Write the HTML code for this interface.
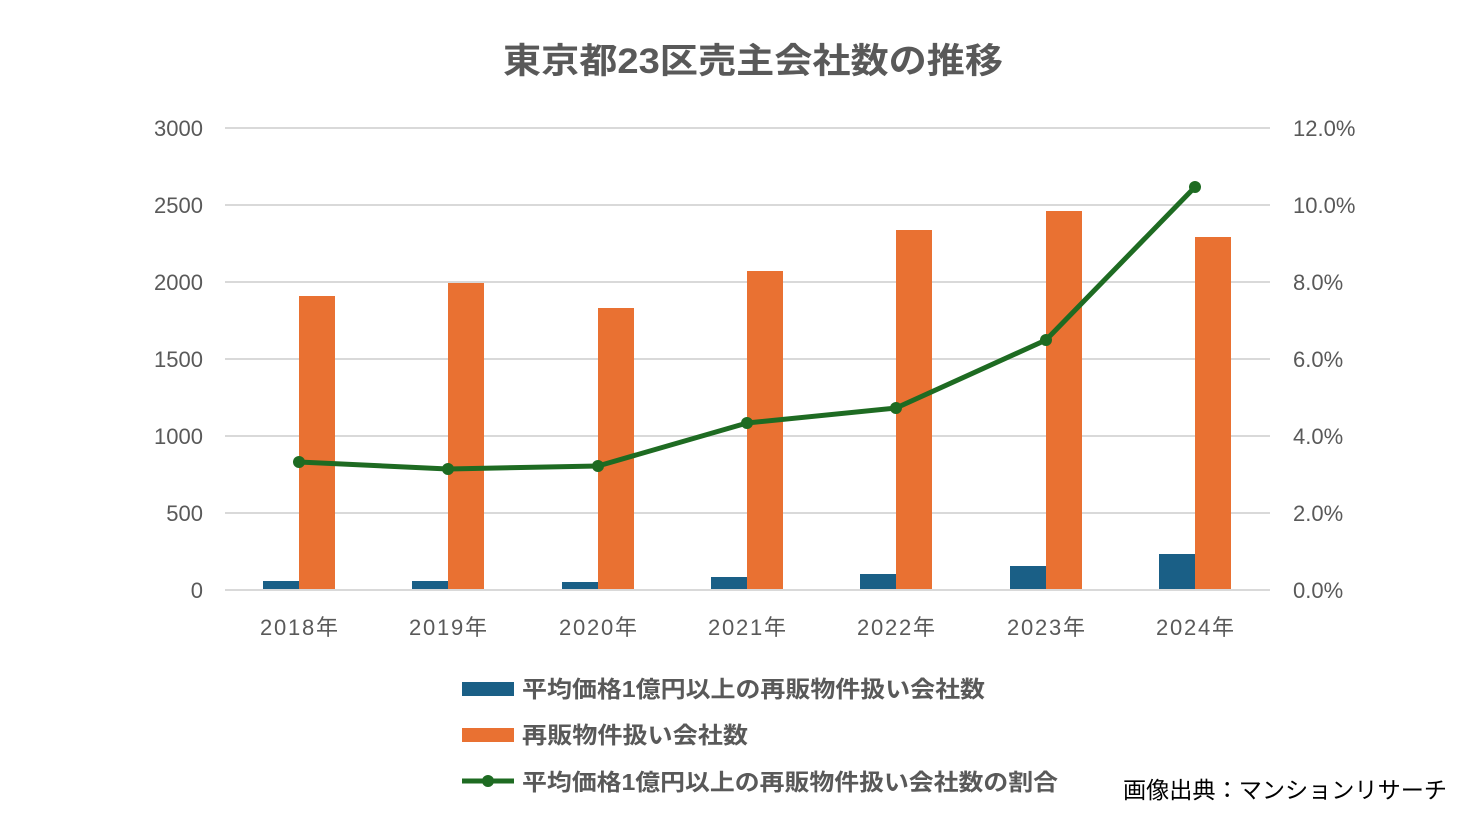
<!DOCTYPE html>
<html><head><meta charset="utf-8"><style>
body{margin:0;background:#fff;width:1470px;height:820px;overflow:hidden}
text{font-family:"Liberation Sans","Noto Sans CJK JP",sans-serif}
</style></head><body>
<svg width="1470" height="820" viewBox="0 0 1470 820" xmlns="http://www.w3.org/2000/svg">
<text x="503" y="73" textLength="500" lengthAdjust="spacingAndGlyphs" font-size="35" font-weight="bold" fill="#595959">東京都23区売主会社数の推移</text>
<g stroke="#d9d9d9" stroke-width="2">
<line x1="225" y1="128" x2="1270" y2="128"/><line x1="225" y1="205" x2="1270" y2="205"/>
<line x1="225" y1="282" x2="1270" y2="282"/><line x1="225" y1="359" x2="1270" y2="359"/>
<line x1="225" y1="436" x2="1270" y2="436"/><line x1="225" y1="513" x2="1270" y2="513"/>
<line x1="225" y1="590" x2="1270" y2="590"/></g>
<g font-size="22" fill="#595959" text-anchor="end">
<text x="203" y="136">3000</text><text x="203" y="213">2500</text><text x="203" y="290">2000</text>
<text x="203" y="367">1500</text><text x="203" y="444">1000</text><text x="203" y="521">500</text><text x="203" y="598">0</text></g>
<g font-size="22" fill="#595959">
<text x="1293" y="136">12.0%</text><text x="1293" y="213">10.0%</text><text x="1293" y="290">8.0%</text>
<text x="1293" y="367">6.0%</text><text x="1293" y="444">4.0%</text><text x="1293" y="521">2.0%</text><text x="1293" y="598">0.0%</text></g>
<g fill="#1a5f86">
<rect x="263" y="581" width="36" height="8"/><rect x="412" y="581" width="36" height="8"/>
<rect x="562" y="582" width="36" height="7"/><rect x="711" y="577" width="36" height="12"/>
<rect x="860" y="574" width="36" height="15"/><rect x="1010" y="566" width="36" height="23"/>
<rect x="1159" y="554" width="36" height="35"/></g>
<g fill="#e97132">
<rect x="299" y="296" width="36" height="293"/><rect x="448" y="283" width="36" height="306"/>
<rect x="598" y="308" width="36" height="281"/><rect x="747" y="271" width="36" height="318"/>
<rect x="896" y="230" width="36" height="359"/><rect x="1046" y="211" width="36" height="378"/>
<rect x="1195" y="237" width="36" height="352"/></g>
<path d="M299,462 L448,469 L598,466 L747,423 L896,408 L1046,340 L1195,187" fill="none" stroke="#1e6b22" stroke-width="5" stroke-linejoin="round"/>
<g fill="#1e6b22">
<circle cx="299" cy="462" r="6"/><circle cx="448" cy="469" r="6"/><circle cx="598" cy="466" r="6"/>
<circle cx="747" cy="423" r="6"/><circle cx="896" cy="408" r="6"/><circle cx="1046" cy="340" r="6"/><circle cx="1195" cy="187" r="6"/></g>
<g font-size="22" fill="#595959">
<text x="260" y="635" textLength="78">2018年</text><text x="409" y="635" textLength="78">2019年</text><text x="559" y="635" textLength="78">2020年</text>
<text x="708" y="635" textLength="78">2021年</text><text x="857" y="635" textLength="78">2022年</text><text x="1007" y="635" textLength="78">2023年</text><text x="1156" y="635" textLength="78">2024年</text></g>
<rect x="462" y="682" width="52" height="14" fill="#1a5f86"/>
<rect x="462" y="728" width="52" height="14" fill="#e97132"/>
<line x1="462" y1="781" x2="514" y2="781" stroke="#1e6b22" stroke-width="5"/><circle cx="488" cy="781" r="6" fill="#1e6b22"/>
<g font-size="23" font-weight="bold" fill="#595959">
<text x="522" y="697" textLength="463" lengthAdjust="spacingAndGlyphs">平均価格1億円以上の再販物件扱い会社数</text>
<text x="522" y="743" textLength="226" lengthAdjust="spacingAndGlyphs">再販物件扱い会社数</text>
<text x="522" y="790" textLength="536" lengthAdjust="spacingAndGlyphs">平均価格1億円以上の再販物件扱い会社数の割合</text></g>
<text x="1123" y="798" textLength="324" lengthAdjust="spacingAndGlyphs" font-size="23" fill="#000">画像出典：マンションリサーチ</text>
</svg>
</body></html>
